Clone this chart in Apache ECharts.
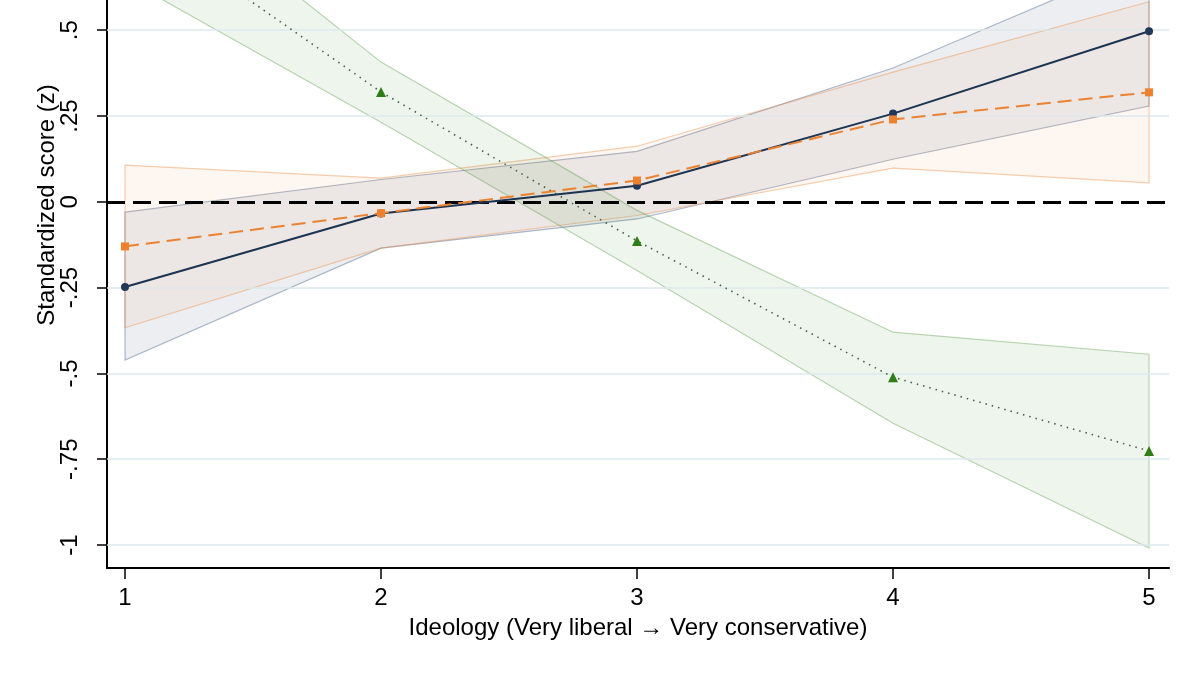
<!DOCTYPE html>
<html><head><meta charset="utf-8">
<script src="https://cdn.jsdelivr.net/npm/echarts@6/dist/echarts.min.js"></script>
<style>html,body{margin:0;padding:0;background:#fff}#c{width:1200px;height:675px}</style>
</head><body><div id="c"></div>
<script>
const xValues = [1, 2, 3, 4, 5];
const xTickLabels = ['1', '2', '3', '4', '5'];
const yTicks = [-1, -0.75, -0.5, -0.25, 0, 0.25, 0.5];
const yTickLabels = ['-1', '-.75', '-.5', '-.25', '0', '.25', '.5'];
const xTitle = 'Ideology (Very liberal \u2192 Very conservative)';
const yTitle = 'Standardized score (z)';

const navyEst   = [-0.248, -0.034, 0.047, 0.257, 0.497];
const navyLower = [-0.461, -0.135, -0.050, 0.124, 0.279];
const navyUpper = [-0.030, 0.065, 0.147, 0.390, 0.707];

const orangeEst   = [-0.130, -0.033, 0.062, 0.240, 0.319];
const orangeLower = [-0.367, -0.135, -0.040, 0.098, 0.055];
const orangeUpper = [0.107, 0.069, 0.162, 0.378, 0.583];

const greenEst   = [0.840, 0.320, -0.114, -0.511, -0.726];
const greenLower = [0.650, 0.232, -0.200, -0.645, -1.009];
const greenUpper = [1.000, 0.407, -0.025, -0.380, -0.444];

const FONT = 'Liberation Sans, Arial, Helvetica, sans-serif';

function pairs(ys) { return xValues.map((x, i) => [x, ys[i]]); }

function bandSeries(lower, upper, fill, stroke, z) {
  return {
    type: 'custom', coordinateSystem: 'cartesian2d', silent: true, z: z, clip: true,
    data: [[xValues[0], lower[0]]], encode: { x: 0, y: 1 },
    renderItem: function (params, api) {
      const pts = [];
      for (let i = 0; i < xValues.length; i++) pts.push(api.coord([xValues[i], upper[i]]));
      for (let i = xValues.length - 1; i >= 0; i--) pts.push(api.coord([xValues[i], lower[i]]));
      return { type: 'polygon', shape: { points: pts }, style: { fill: fill, stroke: stroke, lineWidth: 1.2 } };
    }
  };
}

const chart = echarts.init(document.getElementById('c'), null, { renderer: 'canvas' });
chart.setOption({
  animation: false,
  backgroundColor: '#ffffff',
  grid: { left: 107, right: 31, top: 0, bottom: 107, containLabel: false },
  graphic: [{
    type: 'text', x: 47, y: 205, rotation: Math.PI / 2, silent: true,
    style: { text: yTitle, font: '24px ' + FONT, fill: '#000', align: 'center', verticalAlign: 'middle' }
  }],
  xAxis: {
    type: 'value', min: 0.9297, max: 5.078,
    name: xTitle,
    nameLocation: 'middle', nameGap: 48,
    nameTextStyle: { fontFamily: FONT, fontSize: 24, color: '#000' },
    axisLine: { onZero: false, lineStyle: { color: '#000', width: 2 } },
    axisTick: { show: true, length: 11, customValues: xValues, lineStyle: { color: '#000', width: 1.5 } },
    axisLabel: { customValues: xValues, fontFamily: FONT, fontSize: 24, color: '#000', margin: 18,
      formatter: v => xTickLabels[xValues.indexOf(v)] },
    splitLine: { show: false }
  },
  yAxis: {
    type: 'value', min: -1.067, max: 0.588,
    axisLine: { onZero: false, lineStyle: { color: '#000', width: 2 } },
    axisTick: { show: true, length: 10, customValues: yTicks, lineStyle: { color: '#000', width: 1.5 } },
    axisLabel: { customValues: yTicks, rotate: 90, fontFamily: FONT, fontSize: 24, color: '#000', margin: 25,
      formatter: v => yTickLabels[yTicks.indexOf(v)] },
    splitLine: { show: false }
  },
  series: [
    {
      type: 'line', data: [], z: 0, silent: true,
      markLine: { silent: true, symbol: ['none', 'none'], label: { show: false },
        lineStyle: { color: '#dde9ec', width: 1.5, type: 'solid' },
        data: yTicks.filter(v => v !== 0).map(v => ({ yAxis: v })) }
    },
    bandSeries(navyLower, navyUpper, 'rgba(30,60,110,0.085)', 'rgba(70,95,135,0.42)', 1),
    bandSeries(orangeLower, orangeUpper, 'rgba(240,140,60,0.075)', 'rgba(235,140,70,0.42)', 1),
    bandSeries(greenLower, greenUpper, 'rgba(60,140,40,0.085)', 'rgba(80,150,60,0.38)', 1),
    {
      type: 'line', data: [], z: 3, silent: true,
      markLine: { silent: true, symbol: ['none', 'none'], label: { show: false },
        lineStyle: { color: '#000', width: 3, type: [18, 8] },
        data: [{ yAxis: 0 }] }
    },
    {
      type: 'line', data: pairs(greenEst), z: 5, symbol: 'triangle', symbolSize: 10,
      itemStyle: { color: '#2e7d17' },
      lineStyle: { color: '#46604a', width: 1.6, type: [1.5, 5] }
    },
    {
      type: 'line', data: pairs(navyEst), z: 6, symbol: 'circle', symbolSize: 8,
      itemStyle: { color: '#22385a' },
      lineStyle: { color: '#1c3352', width: 2 }
    },
    {
      type: 'line', data: pairs(orangeEst), z: 7, symbol: 'rect', symbolSize: 8,
      itemStyle: { color: '#ec8230' },
      lineStyle: { color: '#ec8230', width: 2, type: [14, 7] }
    }
  ]
});
</script>
</body></html>
